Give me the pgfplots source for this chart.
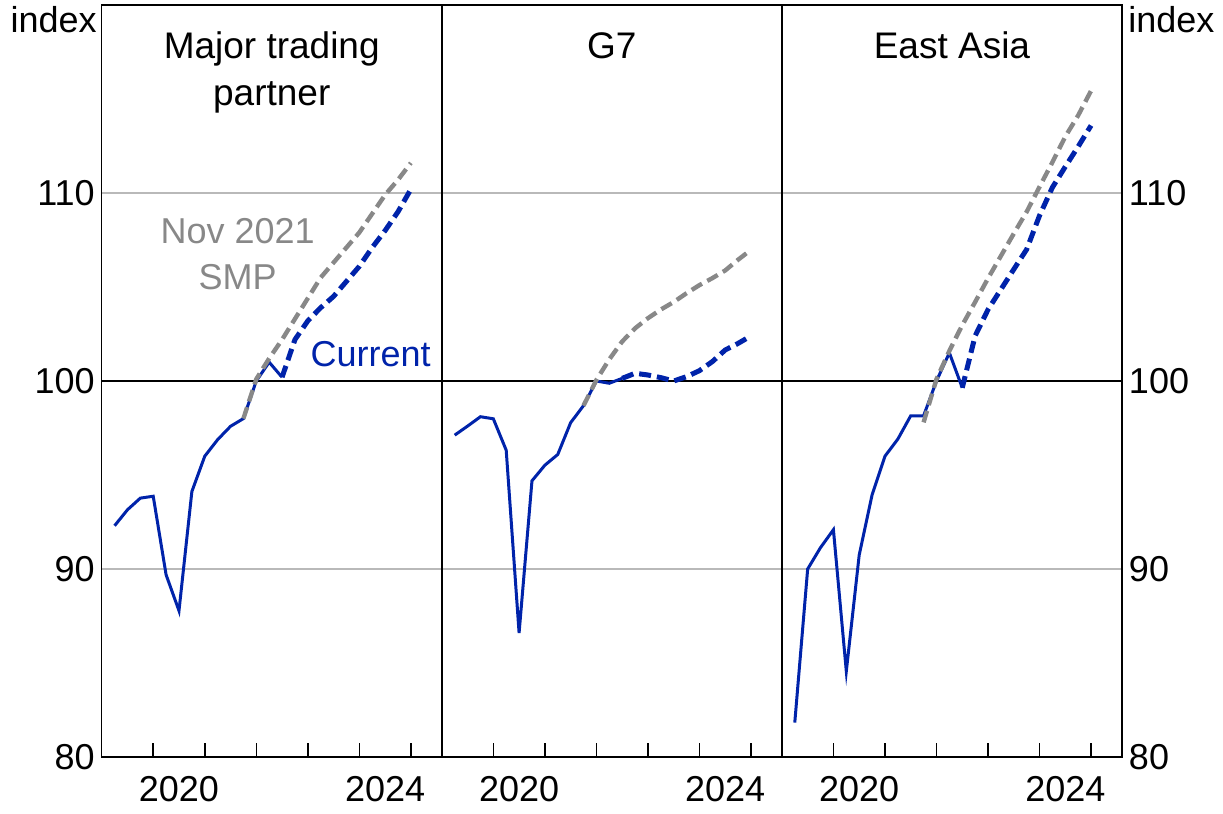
\documentclass[border=0pt]{standalone}
\usepackage{fontspec}
\setmainfont{Liberation Sans}
\usepackage{pgfplots}
\pgfplotsset{compat=1.18}
\definecolor{rbablue}{RGB}{0,35,170}
\definecolor{rbagray}{RGB}{136,136,136}
\definecolor{gridgray}{RGB}{185,185,185}

\pgfplotsset{
  panel/.style={
    scale only axis, width=170.05pt, height=376pt,
    xmin=2019, xmax=2025.6, ymin=80, ymax=120,
    clip=false,
    axis line style={black, line width=0.75pt},
    xtick={2020,2021,2022,2023,2024,2025}, xticklabels={},
    xtick pos=bottom, tick align=inside,
    major tick length=7pt,
    xtick style={black, line width=0.75pt},
    extra x ticks={2020.5,2024.5}, extra x tick labels={2020,2024},
    extra x tick style={major tick length=0pt, xticklabel style={inner sep=0pt, anchor=north, yshift=-9.5pt}},
    ytick={80,90,110}, ymajorgrids, grid style={gridgray, line width=0.6pt},
    ytick style={draw=none}, ytick pos=left,
    extra y ticks={100},
    extra y tick style={grid style={black, line width=0.75pt}, major tick length=0pt},
    tick label style={font=\fontsize{18}{20}\selectfont},
    /pgf/number format/assume math mode=true,
  },
  actual/.style={rbablue, line width=1.5pt},
  fcst/.style={rbablue, line width=2.5pt, dash pattern=on 6pt off 3pt},
  smp/.style={rbagray, line width=2.2pt, dash pattern=on 6pt off 3pt},
}
\tikzset{ptitle/.style={font=\fontsize{18.5}{23.5}\selectfont, align=center, anchor=base, inner sep=0pt}}

\begin{document}
\begin{tikzpicture}
\useasboundingbox (-50.85pt,-28.5pt) rectangle (560.65pt,378.5pt);

% Panel 1: Major trading partner
\begin{axis}[panel, at={(0pt,0pt)},
  yticklabels={80,90,110}, extra y tick labels={100},
  yticklabel style={inner sep=0pt, anchor=east, xshift=-3.3pt}]
\addplot[actual] coordinates {
(2019.25,92.3)(2019.5,93.15)(2019.75,93.77)(2020.0,93.87)(2020.25,89.69)(2020.5,87.78)
(2020.75,94.12)(2021.0,96.0)(2021.25,96.88)(2021.5,97.59)(2021.75,98.0)(2022.0,100.0)
(2022.25,101.0)(2022.5,100.2)};
\addplot[fcst] coordinates {
(2022.5,100.2)(2022.75,102.2)(2023.0,103.2)(2023.25,103.9)(2023.5,104.5)(2023.75,105.3)
(2024.0,106.1)(2024.25,107.1)(2024.5,108.0)(2024.75,109.0)(2025.0,110.2)};
\addplot[smp] coordinates {
(2021.75,98.0)(2022.0,100.1)(2022.25,101.2)(2022.5,102.2)(2022.75,103.3)(2023.0,104.4)
(2023.25,105.5)(2023.5,106.3)(2023.75,107.1)(2024.0,107.9)(2024.25,108.9)(2024.5,109.9)
(2024.75,110.7)(2025.0,111.6)};
\node[ptitle] at (rel axis cs:0.5,1) [yshift=-50pt] {Major trading\\partner};
\node[font=\fontsize{18}{23.3}\selectfont, align=center, anchor=base, inner sep=0pt, text=rbagray]
  at (axis cs:2021.64,104.85) {Nov 2021\\SMP};
\node[font=\fontsize{18}{20}\selectfont, anchor=base, inner sep=0pt, text=rbablue]
  at (axis cs:2024.22,100.75) {Current};
\end{axis}

% Panel 2: G7
\begin{axis}[panel, at={(170.05pt,0pt)},
  yticklabels={}, extra y tick labels={}]
\addplot[actual] coordinates {
(2019.25,97.12)(2019.5,97.6)(2019.75,98.1)(2020.0,97.99)(2020.25,96.32)(2020.5,86.6)
(2020.75,94.69)(2021.0,95.52)(2021.25,96.09)(2021.5,97.78)(2021.75,98.69)(2022.0,100.0)
(2022.25,99.88)(2022.5,100.14)};
\addplot[fcst] coordinates {
(2022.5,100.14)(2022.75,100.41)(2023.0,100.32)(2023.25,100.18)(2023.5,100.0)(2023.75,100.23)
(2024.0,100.55)(2024.25,101.03)(2024.5,101.65)(2024.75,102.0)(2025.0,102.4)};
\addplot[smp] coordinates {
(2021.75,98.69)(2022.0,100.05)(2022.25,101.15)(2022.5,102.1)(2022.75,102.8)(2023.0,103.34)
(2023.25,103.8)(2023.5,104.2)(2023.75,104.67)(2024.0,105.1)(2024.25,105.47)(2024.5,105.88)
(2024.75,106.45)(2025.0,106.98)};
\node[ptitle] at (rel axis cs:0.5,1) [yshift=-26.5pt] {G7};
\end{axis}

% Panel 3: East Asia
\begin{axis}[panel, at={(340.1pt,0pt)},
  ytick pos=right, yticklabel pos=right,
  yticklabels={80,90,110}, extra y tick labels={100},
  yticklabel style={inner sep=0pt, anchor=west, xshift=3.3pt}]
\addplot[actual] coordinates {
(2019.25,81.83)(2019.5,90.0)(2019.75,91.14)(2020.0,92.09)(2020.25,84.56)(2020.5,90.74)
(2020.75,93.94)(2021.0,96.0)(2021.25,96.91)(2021.5,98.15)(2021.75,98.15)(2022.0,100.0)
(2022.25,101.5)(2022.5,99.64)};
\addplot[fcst] coordinates {
(2022.5,99.64)(2022.75,102.4)(2023.0,103.8)(2023.25,104.87)(2023.5,105.94)(2023.75,107.0)
(2024.0,108.8)(2024.25,110.3)(2024.5,111.4)(2024.75,112.47)(2025.0,113.59)};
\addplot[smp] coordinates {
(2021.75,97.8)(2022.0,100.1)(2022.25,101.6)(2022.5,102.97)(2022.75,104.2)(2023.0,105.46)
(2023.25,106.65)(2023.5,107.84)(2023.75,109.0)(2024.0,110.33)(2024.25,111.64)(2024.5,113.0)
(2024.75,114.13)(2025.0,115.44)};
\node[ptitle] at (rel axis cs:0.5,1) [yshift=-26.5pt] {East Asia};
\end{axis}

\node[font=\fontsize{18}{20}\selectfont, anchor=base east, inner sep=0pt] at (-2.35pt,362pt) {index};
\node[font=\fontsize{18}{20}\selectfont, anchor=base west, inner sep=0pt] at (513.15pt,362pt) {index};
\end{tikzpicture}
\end{document}
